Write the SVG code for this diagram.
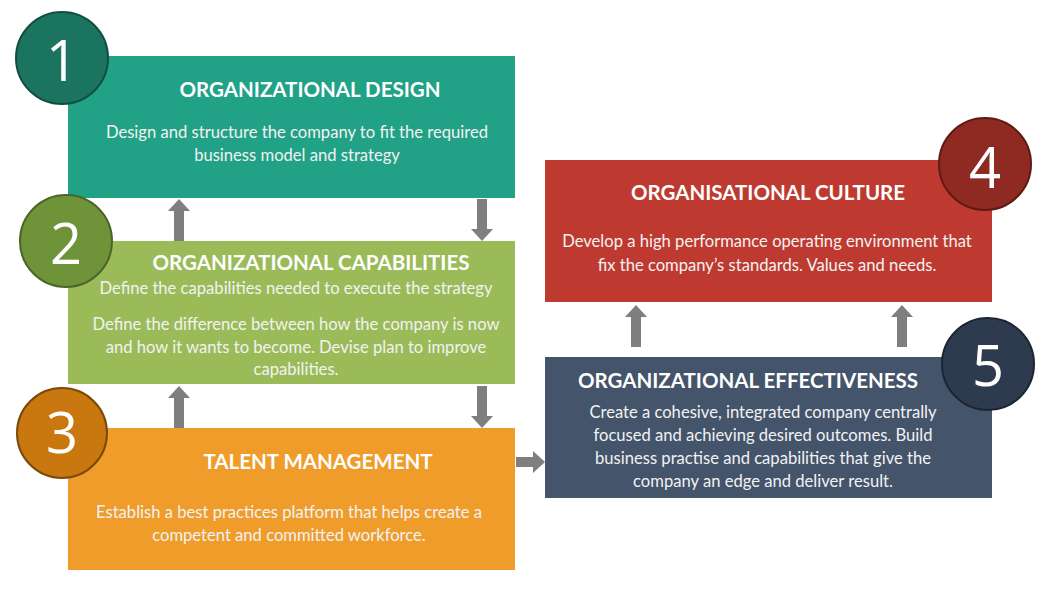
<svg xmlns="http://www.w3.org/2000/svg" width="1055" height="592" viewBox="0 0 1055 592">
<style>
.title{font-family:Lato,"Open Sans","Liberation Sans",sans-serif;font-weight:700;font-size:20.5px;fill:#fff;text-anchor:middle}
.body{font-family:Lato,"Open Sans","Liberation Sans",sans-serif;font-size:16.6px;fill:#f2f2f2;text-anchor:middle}
.num{font-family:"Open Sans","Liberation Sans",sans-serif;font-weight:400;font-size:56px;fill:#fff;text-anchor:middle}
.arrow{fill:#7f7f7f}
</style>
<rect width="1055" height="592" fill="#fff"/>
<g id="connectors">
<polygon class="arrow" points="179,199 190,211 184,211 184,241 174,241 174,211 168,211"/>
<polygon class="arrow" points="482,241 493,229 487,229 487,199 477,199 477,229 471,229"/>
<polygon class="arrow" points="179,386 190,398 184,398 184,428 174,428 174,398 168,398"/>
<polygon class="arrow" points="482,428 493,416 487,416 487,386 477,386 477,416 471,416"/>
<polygon class="arrow" points="545,462 533,451 533,457 516,457 516,467 533,467 533,473"/>
<polygon class="arrow" points="636,305 647,317 641,317 641,347 631,347 631,317 625,317"/>
<polygon class="arrow" points="902,305 913,317 907,317 907,347 897,347 897,317 891,317"/>
</g>
<g id="node1">
<rect x="68" y="56" width="447" height="142" fill="#21a185"/>
<circle cx="62" cy="58" r="46" fill="#1a7460" stroke="#124e40" stroke-width="2"/>
<text class="num" x="62" y="81">1</text>
<text class="title" x="310" y="97">ORGANIZATIONAL DESIGN</text>
<text class="body" x="297" y="138">Design and structure the company to fit the required</text>
<text class="body" x="297" y="161">business model and strategy</text>
</g>
<g id="node2">
<rect x="68" y="241" width="447" height="143" fill="#9bbb59"/>
<circle cx="66" cy="241" r="46" fill="#6e9339" stroke="#4a6526" stroke-width="2"/>
<text class="num" x="66" y="264">2</text>
<text class="title" x="311" y="270">ORGANIZATIONAL CAPABILITIES</text>
<text class="body" x="296" y="294">Define the capabilities needed to execute the strategy</text>
<text class="body" x="296" y="330">Define the difference between how the company is now</text>
<text class="body" x="296" y="353">and how it wants to become. Devise plan to improve</text>
<text class="body" x="296" y="375">capabilities.</text>
</g>
<g id="node3">
<rect x="68" y="428" width="447" height="142" fill="#f09c2a"/>
<circle cx="62" cy="433" r="45" fill="#c8780e" stroke="#7a4a08" stroke-width="2"/>
<text class="num" x="62" y="453">3</text>
<text class="title" x="318" y="469">TALENT MANAGEMENT</text>
<text class="body" x="289" y="518">Establish a best practices platform that helps create a</text>
<text class="body" x="289" y="541">competent and committed workforce.</text>
</g>
<g id="node4">
<rect x="545" y="160" width="447" height="142" fill="#be3a30"/>
<circle cx="985" cy="164" r="46" fill="#8e2a22" stroke="#5e1a15" stroke-width="2"/>
<text class="num" x="985" y="188">4</text>
<text class="title" x="768" y="200">ORGANISATIONAL CULTURE</text>
<text class="body" x="767" y="247">Develop a high performance operating environment that</text>
<text class="body" x="767" y="271">fix the company’s standards. Values and needs.</text>
</g>
<g id="node5">
<rect x="545" y="357" width="447" height="141" fill="#44546a"/>
<circle cx="988" cy="364" r="46" fill="#2e3b4e" stroke="#1c2533" stroke-width="2"/>
<text class="num" x="988" y="386">5</text>
<text class="title" x="748" y="388">ORGANIZATIONAL EFFECTIVENESS</text>
<text class="body" x="763" y="418">Create a cohesive, integrated company centrally</text>
<text class="body" x="763" y="441">focused and achieving desired outcomes. Build</text>
<text class="body" x="763" y="464">business practise and capabilities that give the</text>
<text class="body" x="763" y="487">company an edge and deliver result.</text>
</g>
</svg>
